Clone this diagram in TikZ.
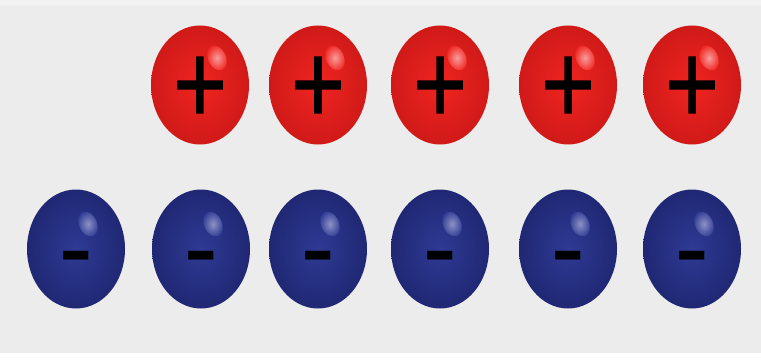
\documentclass[tikz,border=0pt]{standalone}
\usepackage{fontspec}
\usepackage{graphicx}
\newfontfamily\signfont{DejaVu Sans}
\newfontfamily\plusfont[FakeBold=2.5]{DejaVu Sans}
\usetikzlibrary{shapes.geometric}
\definecolor{bg}{HTML}{ECECEC}
\definecolor{bgtop}{HTML}{F2F2F2}
\definecolor{redball}{RGB}{240,36,32}
\definecolor{rededge}{RGB}{208,26,24}
\definecolor{blueball}{RGB}{46,58,148}
\definecolor{blueedge}{RGB}{32,40,116}
\tikzset{
  ballshape/.style={ellipse, inner sep=0pt, minimum width=98pt, minimum height=119pt},
  redballstyle/.style={ballshape, shade, inner color=redball, outer color=rededge},
  blueballstyle/.style={ballshape, shade, inner color=blueball, outer color=blueedge},
  shine/.style={ellipse, inner sep=0pt, minimum width=18pt, minimum height=26pt, rotate=25, shade},
  plussign/.style={inner sep=0pt, text=black, font=\plusfont\fontsize{70}{70}\selectfont},
  minussign/.style={inner sep=0pt, text=black, font=\signfont\bfseries\fontsize{40}{40}\selectfont}
}
\begin{document}
\begin{tikzpicture}[x=1pt,y=-1pt]
\useasboundingbox (0,0) rectangle (761,361);
\fill[white] (0,0) rectangle (761,361);
\fill[bg] (0,0) rectangle (761,353);
\fill[bgtop] (0,0) rectangle (761,6);
% red row
\foreach \i/\x in {1/200,2/318,3/440,4/568,5/692}{
  \node[redballstyle] (r\i) at (\x,85) {};
  \node[shine, inner color=white!55!redball, outer color=redball] (rs\i) at ([shift={(17,-27)}]r\i.center) {};
  \node[plussign] (rp\i) at ([shift={(0,0)}]r\i.center) {\scalebox{1}[1.25]{+}};
}
% blue row
\foreach \i/\x in {1/76,2/201,3/318,4/440,5/568,6/692}{
  \node[blueballstyle] (b\i) at (\x,249) {};
  \node[shine, inner color=white!45!blueball, outer color=blueball] (bs\i) at ([shift={(12,-25)}]b\i.center) {};
  \node[minussign] (bm\i) at ([shift={(0,16)}]b\i.center) {\scalebox{1}[1.9]{−}};
}
\end{tikzpicture}
\end{document}
